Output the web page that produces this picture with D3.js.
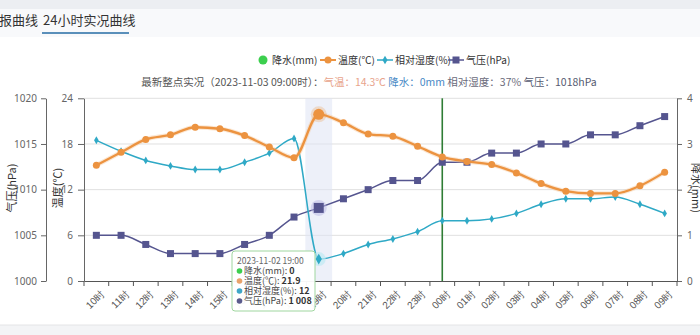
<!DOCTYPE html>
<html><head><meta charset="utf-8">
<script src="https://cdn.jsdelivr.net/npm/d3@7/dist/d3.min.js"></script>
<style>
html,body{margin:0;padding:0;background:#fff;}
svg{display:block;font-family:"Noto Sans CJK SC","Noto Sans",sans-serif;}
</style></head>
<body><svg id="c" width="700" height="335"></svg>
<script>
const categories = ["10时","11时","12时","13时","14时","15时","16时","17时","18时","19时","20时","21时","22时","23时","00时","01时","02时","03时","04时","05时","06时","07时","08时","09时"];
const precipitation = [0,0,0,0,0,0,0,0,0,0,0,0,0,0,0,0,0,0,0,0,0,0,0,0];
const temperature = [15.2,16.9,18.6,19.2,20.2,20.0,19.1,17.6,16.2,21.9,20.8,19.3,19.0,17.7,16.3,15.7,15.3,14.2,12.8,11.8,11.5,11.5,12.5,14.3];
const humidity = [77,71,66,63,61,61,65,70,78,12,15,20,23,27,33,33,34,37,42,45,45,46,42,37];
const pressure = [1005,1005,1004,1003,1003,1003,1004,1005,1007,1008,1009,1010,1011,1011,1013,1013,1014,1014,1015,1015,1016,1016,1017,1018];
const pressureTicks = [1000,1005,1010,1015,1020];
const tempTicks = [0,6,12,18,24];
const rainTicks = [0,1,2,3,4];
const legendItems = ["降水(mm)","温度(℃)","相对湿度(%)","气压(hPa)"];
const hoverIndex = 9;
const markIndex = 14;

const C = {rain:"#3ccf4e", temp:"#ec9340", hum:"#2fa9c6", pres:"#55558f"};
const svg = d3.select("#c");
const L = 84, R = 677, T = 98.3, B = 281;

// background strips
svg.append("rect").attr("x",0).attr("y",0).attr("width",700).attr("height",9).attr("fill","#eceef2");
svg.append("rect").attr("x",0).attr("y",9).attr("width",700).attr("height",28).attr("fill","#f8f9fb");
svg.append("rect").attr("x",0).attr("y",325).attr("width",700).attr("height",10).attr("fill","#f3f4f6");
svg.append("line").attr("x1",0).attr("x2",700).attr("y1",325).attr("y2",325).attr("stroke","#e4e4e6");

// tabs
svg.append("text").attr("x",-1).attr("y",25).attr("font-size",13).attr("fill","#333").text("报曲线");
svg.append("text").attr("x",43).attr("y",25).attr("font-size",13).attr("fill","#333").text("24小时实况曲线");
svg.append("line").attr("x1",42).attr("x2",129).attr("y1",33).attr("y2",33).attr("stroke","#5a8fba").attr("stroke-width",2);

const x = d3.scaleBand().domain(categories).range([L,R]).padding(0);
const cx = d => x(d) + x.bandwidth()/2;
const yT = d3.scaleLinear().domain([0,24]).range([B,T]);
const yH = d3.scaleLinear().domain([0,100]).range([B,T]);
const yP = d3.scaleLinear().domain([1000,1020]).range([B,T]);
const yR = d3.scaleLinear().domain([0,4]).range([B,T]);

// grid
svg.append("g").selectAll("line").data(tempTicks.slice(1)).join("line")
  .attr("x1",L).attr("x2",R).attr("y1",d=>yT(d)).attr("y2",d=>yT(d))
  .attr("stroke","#e0e0e0").attr("stroke-width",1);

// hover band
svg.append("rect").attr("x",x(categories[hoverIndex])-1).attr("y",T).attr("width",x.bandwidth()+2).attr("height",B-T)
  .attr("fill","#dfe4f4").attr("opacity",0.55);

// axes
function styleAxis(g){
  g.selectAll("path,line").attr("stroke","#666");
  g.selectAll("text").attr("fill","#666").attr("font-size",10).attr("font-family","Noto Sans, sans-serif");
}
svg.append("g").attr("transform",`translate(46,0)`).call(d3.axisLeft(yP).tickValues(pressureTicks).tickFormat(d3.format("d")).tickSize(5).tickPadding(4).tickSizeOuter(0)).call(styleAxis);
svg.append("g").attr("transform",`translate(${L},0)`).call(d3.axisLeft(yT).tickValues(tempTicks).tickFormat(d3.format("d")).tickSize(6).tickPadding(5).tickSizeOuter(0)).call(styleAxis);
svg.append("g").attr("transform",`translate(${R},0)`).call(d3.axisRight(yR).tickValues(rainTicks).tickFormat(d3.format("d")).tickSize(5).tickPadding(5).tickSizeOuter(0)).call(styleAxis);

const xa = svg.append("g").attr("transform",`translate(0,${B})`).call(d3.axisBottom(x).tickSize(0).tickSizeOuter(0));
xa.select("path").attr("stroke","#555");
xa.selectAll("text").attr("fill","#555").attr("font-size",10)
  .attr("text-anchor","end").attr("dy","0.35em")
  .attr("transform","translate(4,9) rotate(-45)");
const bounds = categories.map(c=>x(c)).concat([R]);
xa.selectAll("line.bt").data(bounds).join("line").attr("class","bt")
  .attr("x1",d=>d).attr("x2",d=>d).attr("y1",0).attr("y2",5).attr("stroke","#555");

// axis titles
svg.append("text").attr("transform","translate(16,188) rotate(-90)").attr("text-anchor","middle").attr("font-size",11).attr("fill","#333").text("气压(hPa)");
svg.append("text").attr("transform","translate(62,188) rotate(-90)").attr("text-anchor","middle").attr("font-size",11).attr("fill","#333").text("温度(℃)");
svg.append("text").attr("transform","translate(692,188) rotate(90)").attr("text-anchor","middle").attr("font-size",11).attr("fill","#333").text("降水(mm)");

// precipitation bars (zero)
svg.append("g").selectAll("rect").data(precipitation).join("rect")
  .attr("x",(d,i)=>cx(categories[i])-5).attr("width",10)
  .attr("y",d=>yR(d)).attr("height",d=>B-yR(d)).attr("fill",C.rain);

// mark line at 00时
svg.append("line").attr("x1",cx(categories[markIndex])).attr("x2",cx(categories[markIndex]))
  .attr("y1",T).attr("y2",B).attr("stroke","#2f7d35").attr("stroke-width",1.6);

const curve = d3.curveMonotoneX;
// pressure
const lineP = d3.line().x((d,i)=>cx(categories[i])).y(d=>yP(d)).curve(curve);
svg.append("path").attr("d",lineP(pressure)).attr("fill","none").attr("stroke",C.pres).attr("stroke-width",1.5);
svg.append("g").selectAll("rect").data(pressure).join("rect")
  .attr("x",(d,i)=>cx(categories[i])-3.5).attr("y",d=>yP(d)-3.5).attr("width",7).attr("height",7).attr("fill",C.pres);

// humidity
const lineH = d3.line().x((d,i)=>cx(categories[i])).y(d=>yH(d)).curve(curve);
svg.append("path").attr("d",lineH(humidity)).attr("fill","none").attr("stroke",C.hum).attr("stroke-width",1.5);
svg.append("g").selectAll("path").data(humidity).join("path")
  .attr("transform",(d,i)=>`translate(${cx(categories[i])},${yH(d)})`)
  .attr("d",d3.symbol(d3.symbolDiamond,18)).attr("fill",C.hum);

// temperature
const lineT = d3.line().x((d,i)=>cx(categories[i])).y(d=>yT(d)).curve(curve);
svg.append("path").attr("d",lineT(temperature)).attr("fill","none").attr("stroke","#f6c595").attr("stroke-width",4.5).attr("opacity",0.4);
svg.append("path").attr("d",lineT(temperature)).attr("fill","none").attr("stroke",C.temp).attr("stroke-width",2.3);
svg.append("g").selectAll("circle").data(temperature).join("circle")
  .attr("cx",(d,i)=>cx(categories[i])).attr("cy",d=>yT(d)).attr("r",3.5).attr("fill",C.temp);

// emphasis at hover
const hx = cx(categories[hoverIndex]);
svg.append("circle").attr("cx",hx).attr("cy",yT(temperature[hoverIndex])).attr("r",8).attr("fill",C.temp).attr("opacity",0.25);
svg.append("circle").attr("cx",hx).attr("cy",yT(temperature[hoverIndex])).attr("r",5.5).attr("fill",C.temp);
svg.append("circle").attr("cx",hx).attr("cy",yP(pressure[hoverIndex])).attr("r",8).attr("fill","#b9b8e6").attr("opacity",0.5);
svg.append("rect").attr("x",hx-5).attr("y",yP(pressure[hoverIndex])-5).attr("width",10).attr("height",10).attr("fill",C.pres);
svg.append("circle").attr("cx",hx).attr("cy",yH(humidity[hoverIndex])).attr("r",7).attr("fill","#bfe9f3").attr("opacity",0.7);
svg.append("path").attr("transform",`translate(${hx},${yH(humidity[hoverIndex])})`).attr("d",d3.symbol(d3.symbolDiamond,34)).attr("fill",C.hum);

// legend
const lg = svg.append("g").attr("font-size",10).attr("fill","#333");
const ly = 60;
lg.append("circle").attr("cx",263).attr("cy",ly).attr("r",4.5).attr("fill",C.rain);
lg.append("text").attr("x",272).attr("y",ly).attr("dy","0.35em").text(legendItems[0]);
lg.append("line").attr("x1",320).attr("x2",336).attr("y1",ly).attr("y2",ly).attr("stroke",C.temp).attr("stroke-width",2);
lg.append("circle").attr("cx",328).attr("cy",ly).attr("r",3.5).attr("fill",C.temp);
lg.append("text").attr("x",338).attr("y",ly).attr("dy","0.35em").text(legendItems[1]);
lg.append("line").attr("x1",377).attr("x2",393).attr("y1",ly).attr("y2",ly).attr("stroke",C.hum).attr("stroke-width",1.5);
lg.append("path").attr("transform",`translate(385,${ly})`).attr("d",d3.symbol(d3.symbolDiamond,22)).attr("fill",C.hum);
lg.append("text").attr("x",395).attr("y",ly).attr("dy","0.35em").text(legendItems[2]);
lg.append("line").attr("x1",448).attr("x2",464).attr("y1",ly).attr("y2",ly).attr("stroke",C.pres).attr("stroke-width",1.5);
lg.append("rect").attr("x",452.5).attr("y",ly-3.5).attr("width",7).attr("height",7).attr("fill",C.pres);
lg.append("text").attr("x",466).attr("y",ly).attr("dy","0.35em").text(legendItems[3]);

// subtitle
const st = svg.append("text").attr("x",369).attr("y",82).attr("dy","0.35em").attr("text-anchor","middle").attr("font-size",10.5);
st.append("tspan").attr("fill","#555").text("最新整点实况（2023-11-03 09:00时）：");
st.append("tspan").attr("fill","#e8a48c").text("气温：" + temperature[23] + "℃ ");
st.append("tspan").attr("fill","#4a8ac6").text("降水：" + precipitation[23] + "mm ");
st.append("tspan").attr("fill","#6a6a7a").text("相对湿度：" + humidity[23] + "% ");
st.append("tspan").attr("fill","#555a70").text("气压：" + pressure[23] + "hPa");

// tooltip
const tt = svg.append("g");
tt.append("rect").attr("x",232).attr("y",251).attr("width",83).attr("height",60).attr("rx",3)
  .attr("fill","#fff").attr("fill-opacity",0.95).attr("stroke","#9fd69f").attr("stroke-width",1);
tt.append("text").attr("x",237).attr("y",261).attr("dy","0.35em").attr("font-size",8.5).attr("fill","#666").text("2023-11-02 " + categories[hoverIndex].replace("时",":00"));
const rows = [
  [C.rain, legendItems[0], String(precipitation[hoverIndex])],
  ["#e9a36a", legendItems[1], String(temperature[hoverIndex])],
  ["#3fa7c8", legendItems[2], String(humidity[hoverIndex])],
  ["#5a5a8c", legendItems[3], d3.format(",")(pressure[hoverIndex]).replace(","," ")]
];
rows.forEach((r,i)=>{
  const yy = 271 + i*10;
  tt.append("circle").attr("cx",239.5).attr("cy",yy).attr("r",2.8).attr("fill",r[0]);
  const t = tt.append("text").attr("x",244).attr("y",yy).attr("dy","0.35em").attr("font-size",9).attr("fill","#444");
  t.append("tspan").text(r[1] + ": ");
  t.append("tspan").attr("font-weight","bold").attr("fill","#333").text(r[2]);
});
</script></body></html>
